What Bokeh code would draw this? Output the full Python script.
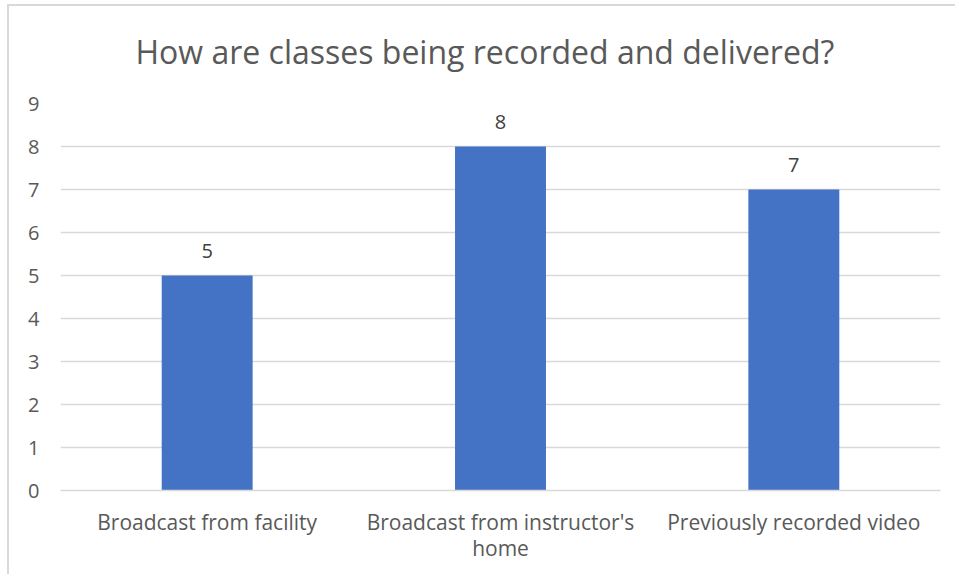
from bokeh.plotting import figure
from bokeh.models import ColumnDataSource, FactorRange, Range1d, Title
from bokeh.core.properties import value
from bokeh.embed import file_html
from bokeh.resources import INLINE

categories = ["Broadcast from facility", "Broadcast from instructor's\nhome", "Previously recorded video"]
counts = [5, 8, 7]
y_ticks = [0, 1, 2, 3, 4, 5, 6, 7, 8, 9]

FONT = "Open Sans"
TXT = "#595959"

src = ColumnDataSource(dict(cat=categories, n=counts, lbl=[str(v) for v in counts]))

p = figure(
    width=948, height=570,
    x_range=FactorRange(*categories, range_padding=0),
    y_range=Range1d(0, 9),
    output_backend="svg", toolbar_location=None,
    min_border_left=51, min_border_right=17, min_border_top=0, min_border_bottom=86,
)
p.styles = {"margin-left": "7px", "margin-top": "4px",
            "border-left": "2px solid #d9d9d9", "border-top": "2px solid #d9d9d9"}

p.title.text = "How are classes being recorded and delivered?"
p.title.align = "left"
p.title.text_font = FONT
p.title.text_font_size = "32px"
p.title.text_font_style = "normal"
p.title.text_color = TXT
p.title.standoff = 43
p.title.offset = 75

# thin empty spacer between title and plot area
p.add_layout(Title(text=" ", text_font_size="6px", standoff=1), "above")

p.vbar(x="cat", top="n", width=0.31, source=src, color="#4472C4", line_color=None)
p.text(x="cat", y="n", text="lbl", source=src, text_align="center", text_baseline="alphabetic",
       y_offset=-25, text_font=value(FONT), text_font_size="20px", text_color="#404040")

p.outline_line_color = None
p.xgrid.grid_line_color = None
p.ygrid.grid_line_color = "#d9d9d9"
p.ygrid.grid_line_width = 1.3
p.yaxis.ticker = y_ticks
p.yaxis.axis_line_color = None
p.yaxis.major_tick_line_color = None
p.yaxis.minor_tick_line_color = None
p.yaxis.major_label_standoff = 15
p.yaxis.major_label_text_font = FONT
p.yaxis.major_label_text_font_size = "20px"
p.yaxis.major_label_text_color = TXT

p.xaxis.axis_line_color = "#d9d9d9"
p.xaxis.axis_line_width = 1.3
p.xaxis.major_tick_line_color = None
p.xaxis.minor_tick_line_color = None
p.xaxis.major_label_standoff = 11
p.xaxis.major_label_text_font = FONT
p.xaxis.major_label_text_font_size = "21px"
p.xaxis.major_label_text_color = TXT
p.xaxis.major_label_text_line_height = 0.95

p.background_fill_color = "white"
p.border_fill_color = "white"

open("out.html", "w").write(file_html(p, INLINE))
